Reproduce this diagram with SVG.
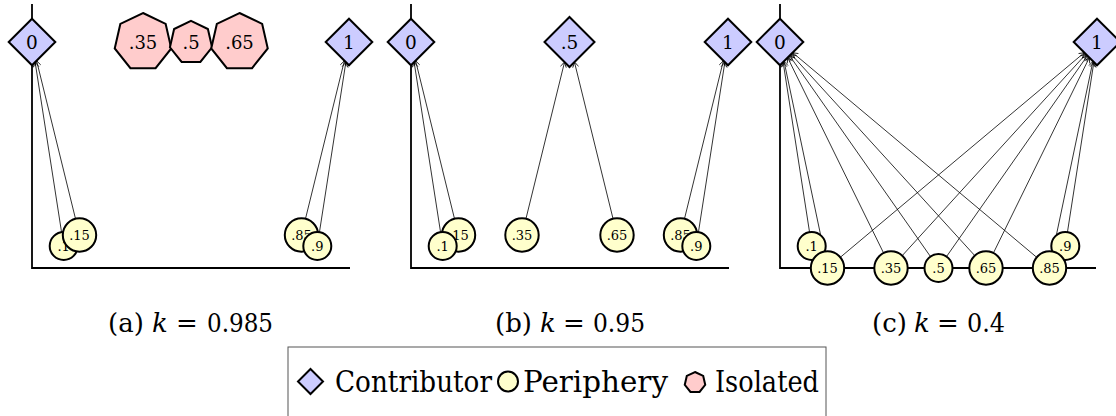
<svg xmlns="http://www.w3.org/2000/svg" width="1116" height="416" viewBox="0 0 1116 416">
<style>
.axis{fill:none;stroke:#000;stroke-width:1.8}
.edge{fill:none;stroke:#000;stroke-width:0.8;marker-end:url(#arr)}
.contrib{fill:#ccccff;stroke:#000;stroke-width:2;stroke-linejoin:miter}
.periph{fill:#ffffcc;stroke:#000;stroke-width:2}
.iso{fill:#ffcccc;stroke:#000;stroke-width:2}
.legbox{fill:#fff;stroke:#555;stroke-width:1}
text{font-family:"DejaVu Serif","Liberation Serif",serif}
.pl{font-size:13px}
.it{font-style:italic}
</style>
<defs>
<marker id="arr" viewBox="-6 -4 7 8" refX="0" refY="0" markerWidth="7" markerHeight="8" markerUnits="userSpaceOnUse" orient="auto">
<path d="M-5,-3 Q-1.8,-0.9 0,0 Q-1.8,0.9 -5,3" fill="none" stroke="#000" stroke-width="0.8"/>
</marker>
</defs>

<g id="axes">
<path class="axis" d="M32,4 V268 H350"/>
<path class="axis" d="M411,4 V268 H729"/>
<path class="axis" d="M780,4 V268 H1096"/>
</g>

<g id="connectors">
<path class="edge" d="M61.55,232.17 L35.13,62.17"/>
<path class="edge" d="M75.51,218.78 L36.60,60.70"/>
<path class="edge" d="M305.49,218.78 L344.40,60.70"/>
<path class="edge" d="M319.45,232.17 L345.87,62.17"/>

<path class="edge" d="M440.55,232.17 L414.13,62.17"/>
<path class="edge" d="M454.51,218.78 L415.60,60.70"/>
<path class="edge" d="M525.95,218.78 L564.56,62.06"/>
<path class="edge" d="M613.05,218.78 L574.44,62.06"/>
<path class="edge" d="M684.49,218.78 L723.40,60.70"/>
<path class="edge" d="M698.45,232.17 L724.87,62.17"/>

<path class="edge" d="M809.55,232.17 L783.13,62.17"/>
<path class="edge" d="M824.11,251.66 L784.05,61.25"/>
<path class="edge" d="M883.59,253.01 L787.67,57.63"/>
<path class="edge" d="M930.46,256.54 L789.61,55.70"/>
<path class="edge" d="M974.80,255.66 L791.11,54.19"/>
<path class="edge" d="M1036.65,257.27 L792.67,52.63"/>
<path class="edge" d="M1067.45,232.17 L1093.87,62.17"/>
<path class="edge" d="M1052.89,251.66 L1092.95,61.25"/>
<path class="edge" d="M993.41,253.01 L1089.33,57.63"/>
<path class="edge" d="M946.54,256.54 L1087.39,55.70"/>
<path class="edge" d="M902.20,255.66 L1085.89,54.19"/>
<path class="edge" d="M840.35,257.27 L1084.33,52.63"/>
</g>

<g text-anchor="middle" font-size="18.5">
<!-- panel a -->
<g id="a-c0"><polygon class="contrib" points="32,18.7 55.3,42 32,65.3 8.7,42"/><text x="32" y="48.8">0</text></g>
<g id="a-c1"><polygon class="contrib" points="349,18.7 372.3,42 349,65.3 325.7,42"/><text x="349" y="48.8">1</text></g>
<g id="a-i35"><polygon class="iso" points="143,13 165.67,23.92 171.27,48.45 155.58,68.13 130.42,68.13 114.73,48.45 120.33,23.92"/><text x="143" y="48.8" font-size="18">.35</text></g>
<g id="a-i5"><polygon class="iso" points="191,20.9 207.89,29.03 212.06,47.31 200.37,61.96 181.63,61.96 169.94,47.31 174.11,29.03"/><text x="191" y="48.8" font-size="18">.5</text></g>
<g id="a-i65"><polygon class="iso" points="239.5,13 262.17,23.92 267.77,48.45 252.08,68.13 226.92,68.13 211.23,48.45 216.83,23.92"/><text x="239.5" y="48.8" font-size="18">.65</text></g>
<g id="a-p1"><circle class="periph" cx="63.7" cy="246" r="14"/><text class="pl" x="63.7" y="250.7">.1</text></g>
<g id="a-p15"><circle class="periph" cx="79.5" cy="235" r="16.7"/><text class="pl" x="79.5" y="239.7">.15</text></g>
<g id="a-p85"><circle class="periph" cx="301.5" cy="235" r="16.7"/><text class="pl" x="301.5" y="239.7">.85</text></g>
<g id="a-p9"><circle class="periph" cx="317.3" cy="246" r="14"/><text class="pl" x="317.3" y="250.7">.9</text></g>

<!-- panel b -->
<g id="b-c0"><polygon class="contrib" points="411,18.7 434.3,42 411,65.3 387.7,42"/><text x="411" y="48.8">0</text></g>
<g id="b-c5"><polygon class="contrib" points="569.5,17 594.5,42 569.5,67 544.5,42"/><text x="569.5" y="48.8">.5</text></g>
<g id="b-c1"><polygon class="contrib" points="728,18.7 751.3,42 728,65.3 704.7,42"/><text x="728" y="48.8">1</text></g>
<g id="b-p15"><circle class="periph" cx="458.5" cy="235" r="16.7"/><text class="pl" x="458.5" y="239.7">.15</text></g>
<g id="b-p1"><circle class="periph" cx="442.7" cy="246" r="14"/><text class="pl" x="442.7" y="250.7">.1</text></g>
<g id="b-p35"><circle class="periph" cx="522" cy="235" r="16.7"/><text class="pl" x="522" y="239.7">.35</text></g>
<g id="b-p65"><circle class="periph" cx="617" cy="235" r="16.7"/><text class="pl" x="617" y="239.7">.65</text></g>
<g id="b-p85"><circle class="periph" cx="680.5" cy="235" r="16.7"/><text class="pl" x="680.5" y="239.7">.85</text></g>
<g id="b-p9"><circle class="periph" cx="696.3" cy="246" r="14"/><text class="pl" x="696.3" y="250.7">.9</text></g>

<!-- panel c -->
<g id="c-c0"><polygon class="contrib" points="780,18.7 803.3,42 780,65.3 756.7,42"/><text x="780" y="48.8">0</text></g>
<g id="c-c1"><polygon class="contrib" points="1097,18.7 1120.3,42 1097,65.3 1073.7,42"/><text x="1097" y="48.8">1</text></g>
<g id="c-p1"><circle class="periph" cx="811.7" cy="246" r="14"/><text class="pl" x="811.7" y="250.7">.1</text></g>
<g id="c-p15"><circle class="periph" cx="827.5" cy="268" r="16.7"/><text class="pl" x="827.5" y="272.7">.15</text></g>
<g id="c-p35"><circle class="periph" cx="891" cy="268" r="16.7"/><text class="pl" x="891" y="272.7">.35</text></g>
<g id="c-p5"><circle class="periph" cx="938.5" cy="268" r="14"/><text class="pl" x="938.5" y="272.7">.5</text></g>
<g id="c-p65"><circle class="periph" cx="986" cy="268" r="16.7"/><text class="pl" x="986" y="272.7">.65</text></g>
<g id="c-p9"><circle class="periph" cx="1065.3" cy="246" r="14"/><text class="pl" x="1065.3" y="250.7">.9</text></g>
<g id="c-p85"><circle class="periph" cx="1049.5" cy="268" r="16.7"/><text class="pl" x="1049.5" y="272.7">.85</text></g>
</g>

<!-- captions -->
<g id="captions" font-size="26">
<text x="108" y="332">(a)</text><text class="it" x="152" y="332">k</text><text x="176" y="332">=</text><text x="207" y="332" textLength="66" lengthAdjust="spacingAndGlyphs">0.985</text>
<text x="495" y="332">(b)</text><text class="it" x="540" y="332">k</text><text x="563" y="332">=</text><text x="593" y="332" textLength="52" lengthAdjust="spacingAndGlyphs">0.95</text>
<text x="872" y="332">(c)</text><text class="it" x="914" y="332">k</text><text x="937" y="332">=</text><text x="967" y="332" textLength="38" lengthAdjust="spacingAndGlyphs">0.4</text>
</g>

<!-- legend -->
<g id="legend" font-size="29">
<rect class="legbox" x="288" y="347" width="538" height="90"/>
<polygon class="contrib" points="310.5,369 323,381.5 310.5,394 298,381.5"/>
<text x="335" y="392" textLength="157" lengthAdjust="spacingAndGlyphs">Contributor</text>
<circle class="periph" cx="508" cy="381.5" r="10"/>
<text x="523" y="392" textLength="145" lengthAdjust="spacingAndGlyphs">Periphery</text>
<polygon class="iso" points="695,372 703.21,375.95 705.24,384.84 699.56,391.96 690.44,391.96 684.76,384.84 686.79,375.95"/>
<text x="715" y="392" textLength="104" lengthAdjust="spacingAndGlyphs">Isolated</text>
</g>
</svg>
